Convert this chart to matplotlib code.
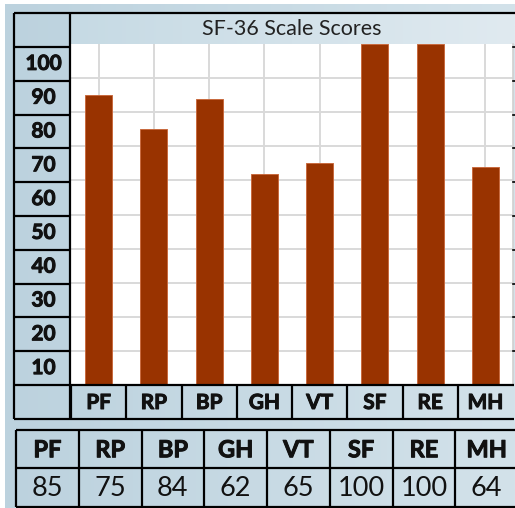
import numpy as np
import matplotlib
matplotlib.use("Agg")
import matplotlib.pyplot as plt
import matplotlib.patheffects as pe
from matplotlib.colors import LinearSegmentedColormap
from matplotlib.transforms import blended_transform_factory

plt.rcParams["font.family"] = ["Lato", "DejaVu Sans"]

# data
scales = ["PF", "RP", "BP", "GH", "VT", "SF", "RE", "MH"]
scores = [85, 75, 84, 62, 65, 100, 100, 64]
y_labels = ["100", "90", "80", "70", "60", "50", "40", "30", "20", "10"]
title = "SF-36 Scale Scores"

# layout in pixels
W, H = 515, 508
X0, LC, PL, PR = 14, 70, 71, 513
TOP, PT, LT, PB, XB = 12.5, 44, 47, 385, 419
TX0, TX1, TY0, TYM, TY1 = 16, 518, 430, 467.5, 507
BLUE_L, BLUE_R = "#bcd2de", "#d3e2ea"
LINE = dict(color="black", lw=1.6, solid_capstyle="butt")
BOLD = dict(fontweight="bold", color="#111111",
            path_effects=[pe.withStroke(linewidth=0.7, foreground="#111111")])

fig = plt.figure(figsize=(W / 100, H / 100), dpi=100)

# background (pixel coordinates)
bg = fig.add_axes([0, 0, 1, 1], zorder=0)
bg.set_xlim(0, W)
bg.set_ylim(H, 0)
bg.axis("off")
grad = np.linspace(0, 1, 256).reshape(1, -1)
bg.imshow(grad, cmap=LinearSegmentedColormap.from_list("b", [BLUE_L, BLUE_R]),
          extent=[5, W, H, 4], aspect="auto")
bg.imshow(grad, cmap=LinearSegmentedColormap.from_list("t", ["#c6dae4", "#e0eaf0"]),
          extent=[LC, W, PT, TOP], aspect="auto")
bg.set_xlim(0, W)
bg.set_ylim(H, 0)

# bar chart
ax = fig.add_axes([PL / W, (H - PB) / H, (PR - PL) / W, (PB - PT) / H], zorder=2)
x = np.arange(len(scales))
ax.bar(x, scores, width=0.49, color="#993300", edgecolor="#c86a3e", lw=0.7, zorder=3)
ax.set_xlim(-0.5, len(scales) - 0.5)
ax.set_ylim(0, 100)
ax.set_xticks(x)
ax.set_yticks(np.arange(10, 100, 10))
ax.grid(True, color="#d9d9d9", lw=1.4, zorder=0)
ax.tick_params(left=False, bottom=False, labelleft=False, labelbottom=False)
for s in ["top", "left", "bottom"]:
    ax.spines[s].set_visible(False)
ax.spines["right"].set_color("#d0d0d0")
ax.spines["right"].set_linewidth(1.2)

# overlay for table lines and labels
ov = fig.add_axes([0, 0, 1, 1], zorder=3)
ov.set_xlim(0, W)
ov.set_ylim(H, 0)
ov.axis("off")
ov.patch.set_alpha(0)

# chart frame
ov.plot([X0, W], [TOP, TOP], **LINE)
ov.plot([X0, X0], [TOP, XB], **LINE)
ov.plot([LC, LC], [TOP, XB], **LINE)
ov.plot([X0, PR + 1], [XB, XB], **LINE)
ov.plot([X0, PR + 1], [PB, PB], **LINE)

# y label column
row_h = (PB - LT) / len(y_labels)
for i, lab in enumerate(y_labels):
    y_top = LT + i * row_h
    ov.plot([X0, LC], [y_top, y_top], **LINE)
    ov.plot([PR, PR + 2], [y_top, y_top], color="black", lw=1.2)
    ov.text(43.5, y_top + row_h / 2, lab, ha="center", va="center",
            fontsize=15, **BOLD)

# title
ov.text((PL + PR) / 2, (TOP + PT) / 2 + 1, title, ha="center", va="center",
        fontsize=15.5, color="#222222")

# x label row, aligned with bar positions
bt = blended_transform_factory(ax.transData, ov.transData)
for i, lab in enumerate(scales):
    ov.plot([i - 0.5, i - 0.5], [PB, XB], transform=bt, **LINE)
    ov.text(i, (PB + XB) / 2 + 1, lab, transform=bt, ha="center", va="center",
            fontsize=15, **BOLD)

# bottom value table
col_w = (TX1 - TX0) / len(scales)
ov.plot([TX0, W], [TY0, TY0], **LINE)
ov.plot([TX0, W], [TYM, TYM], **LINE)
ov.plot([TX0, W], [TY1, TY1], **LINE)
for i, (lab, val) in enumerate(zip(scales, scores)):
    xl = TX0 + i * col_w
    ov.plot([xl, xl], [TY0, TY1], **LINE)
    ov.text(xl + col_w / 2, (TY0 + TYM) / 2 + 1, lab, ha="center", va="center",
            fontsize=17, **BOLD)
    ov.text(xl + col_w / 2, (TYM + TY1) / 2 + 1, str(val), ha="center", va="center",
            fontsize=19.5, color="#111111")

fig.savefig("out.png", dpi=100)
